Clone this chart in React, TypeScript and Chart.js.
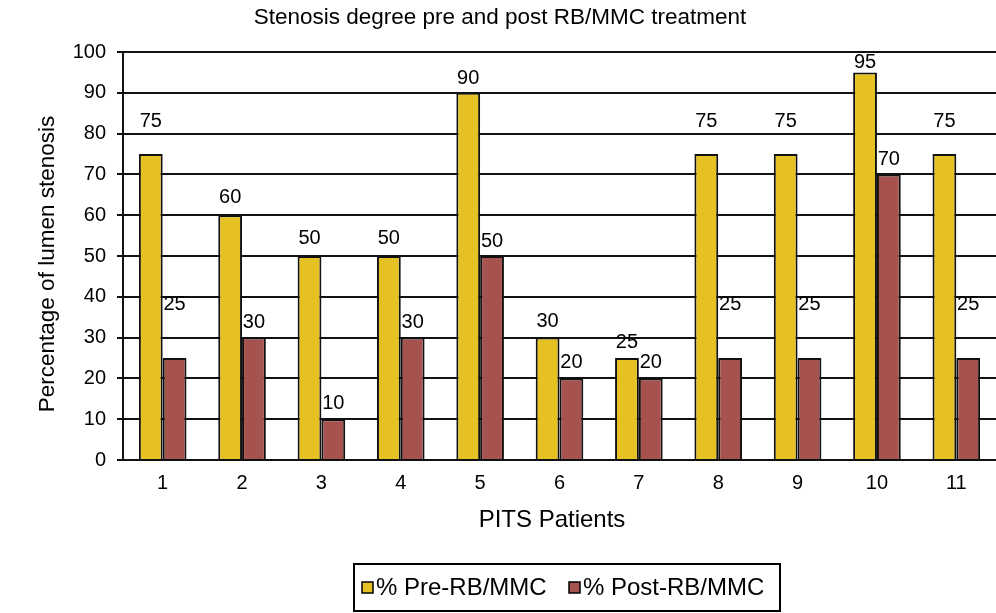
import React, { useEffect, useRef } from "react";
import { Chart, registerables } from "chart.js";

Chart.register(...registerables);

const categories = ["1", "2", "3", "4", "5", "6", "7", "8", "9", "10", "11"];
const preValues = [75, 60, 50, 50, 90, 30, 25, 75, 75, 95, 75];
const postValues = [25, 30, 10, 30, 50, 20, 20, 25, 25, 70, 25];
const yTicks = [0, 10, 20, 30, 40, 50, 60, 70, 80, 90, 100];
const seriesNames = ["% Pre-RB/MMC", "% Post-RB/MMC"];

const GOLD = "#E6C124";
const RED = "#A65350";
const FONT = "'Liberation Sans', Arial, Helvetica, sans-serif";

// label lift above bar tops (px), style only
const liftPre = [33, 18, 18, 18, 14, 16, 16, 33, 33, 10, 33];
const liftPost = [54, 15, 16, 15, 15, 16, 16, 54, 54, 15, 54];

const labelsPlugin = {
  id: "barLabels",
  afterDatasetsDraw(chart: any) {
    const ctx = chart.ctx;
    ctx.save();
    ctx.font = `20px ${FONT}`;
    ctx.fillStyle = "#000";
    ctx.textAlign = "center";
    ctx.textBaseline = "middle";
    chart.data.datasets.forEach((ds: any, di: number) => {
      const meta = chart.getDatasetMeta(di);
      const lifts = di === 0 ? liftPre : liftPost;
      meta.data.forEach((bar: any, i: number) => {
        ctx.fillText(String(ds.data[i]), bar.x, bar.y - lifts[i]);
      });
    });
    ctx.restore();
  },
};

const textsPlugin = {
  id: "texts",
  afterDraw(chart: any) {
    const ctx = chart.ctx;
    ctx.save();
    ctx.fillStyle = "#000";
    ctx.textAlign = "center";
    ctx.textBaseline = "middle";
    ctx.font = `22.5px ${FONT}`;
    ctx.fillText("Stenosis degree pre and post RB/MMC treatment", 500, 18);
    ctx.save();
    ctx.translate(48, 264);
    ctx.rotate(-Math.PI / 2);
    ctx.fillText("Percentage of lumen stenosis", 0, 0);
    ctx.restore();
    ctx.font = `24px ${FONT}`;
    ctx.fillText("PITS Patients", 552, 520);
    ctx.strokeStyle = "#000";
    ctx.lineWidth = 2;
    ctx.strokeRect(354, 564, 426, 47);
    ctx.font = `24px ${FONT}`;
    ctx.textAlign = "left";
    const colors = [GOLD, RED];
    const starts = [362, 569];
    seriesNames.forEach((name, i) => {
      const x = starts[i];
      ctx.fillStyle = colors[i];
      ctx.fillRect(x, 582, 11, 11);
      ctx.lineWidth = 1.5;
      ctx.strokeRect(x, 582, 11, 11);
      ctx.fillStyle = "#000";
      ctx.fillText(name, x + 14, 588);
    });
    ctx.restore();
  },
};

export default function App() {
  const ref = useRef<HTMLCanvasElement>(null);
  useEffect(() => {
    document.body.style.margin = "0";
    const chart = new Chart(ref.current as HTMLCanvasElement, {
      type: "bar",
      data: {
        labels: categories,
        datasets: [
          {
            label: seriesNames[0],
            data: preValues,
            backgroundColor: GOLD,
            borderColor: "#111",
            borderWidth: 2,
            categoryPercentage: 0.6,
            barPercentage: 1,
          },
          {
            label: seriesNames[1],
            data: postValues,
            backgroundColor: RED,
            borderColor: "#111",
            borderWidth: 2,
            categoryPercentage: 0.6,
            barPercentage: 1,
          },
        ],
      },
      options: {
        responsive: false,
        animation: false,
        layout: { padding: { top: 52, left: 0, right: 0, bottom: 0 } },
        plugins: {
          legend: { display: false },
          title: { display: false },
          tooltip: { enabled: false },
        },
        scales: {
          x: {
            grid: { display: false, drawTicks: false },
            border: { display: true, color: "#111", width: 2 },
            ticks: { color: "#000", font: { family: FONT, size: 20 }, padding: 11 },
            afterFit(scale: any) {
              scale.height = 153;
            },
          },
          y: {
            min: 0,
            max: 100,
            afterBuildTicks(scale: any) {
              scale.ticks = yTicks.map((v) => ({ value: v }));
            },
            grid: { color: "#111", lineWidth: 2, tickLength: 6, drawTicks: true },
            border: { display: true, color: "#111", width: 2 },
            ticks: { color: "#000", font: { family: FONT, size: 20 }, padding: 11 },
            afterFit(scale: any) {
              scale.width = 123;
            },
          },
        },
      },
      plugins: [labelsPlugin, textsPlugin],
    });
    return () => chart.destroy();
  }, []);
  return (
    <div style={{ width: 996, height: 613 }}>
      <canvas ref={ref} width={996} height={613} style={{ display: "block" }} />
    </div>
  );
}
